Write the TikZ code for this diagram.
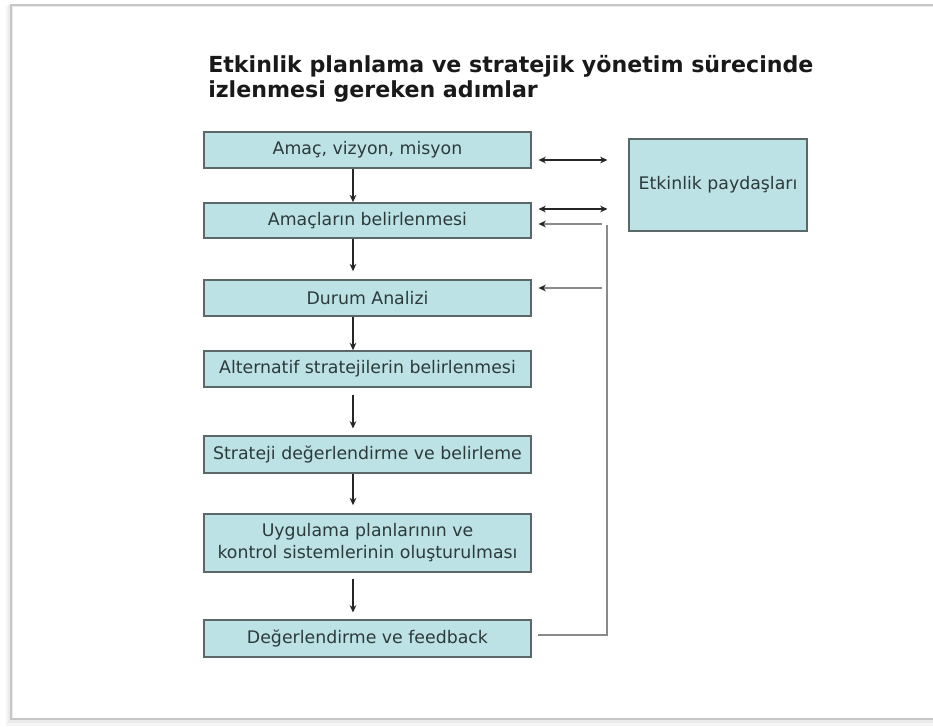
\documentclass[tikz,border=0pt]{standalone}
\usepackage{fontspec}
\setmainfont{DejaVu Sans}
\usetikzlibrary{arrows.meta}
\definecolor{boxfill}{HTML}{BDE2E6}
\definecolor{boxline}{HTML}{5A6868}
\definecolor{txt}{HTML}{2C3A3A}
\definecolor{fbgray}{HTML}{8A8A8A}
\begin{document}
\begin{tikzpicture}[x=0.75pt,y=-0.75pt,
  stepbox/.style={draw=boxline, line width=1.3pt, fill=boxfill, text=txt,
    font=\fontsize{13}{16.5}\selectfont, align=center, inner sep=0pt,
    minimum width=245.25pt},
  flow/.style={-{Stealth[length=5.5pt,width=5pt]}, line width=0.8pt, black!85},
  biflow/.style={{Stealth[length=5.5pt,width=5pt]}-{Stealth[length=5.5pt,width=5pt]}, line width=0.8pt, black!85},
  fbline/.style={line width=1pt, fbgray},
  fbarrow/.style={-{Stealth[length=5.5pt,width=5pt,color=black!85]}, line width=1pt, fbgray},
  titlefont/.style={font=\bfseries\fontsize{16.6}{20}\selectfont, text=black!90, inner sep=0pt}
]
\useasboundingbox (0,0) rectangle (933,726);
% frame with soft shadow
\fill[black!4] (6,5) rectangle (933,726);
\fill[black!8] (8,5) rectangle (933,723);
\fill[white] (13,7) rectangle (933,718);
\draw[black!22, line width=1.2pt] (933,5) -- (11,5) -- (11,719) -- (933,719);

% title
\node[titlefont, anchor=base west] (t1) at (208,72) {Etkinlik planlama ve stratejik yönetim sürecinde};
\node[titlefont, anchor=base west] (t2) at (208,97) {izlenmesi gereken adımlar};

% boxes
\node[stepbox, minimum height=27pt] (b1) at (367.5,150) {Amaç, vizyon, misyon};
\node[stepbox, minimum height=26.25pt] (b2) at (367.5,220.5) {Amaçların belirlenmesi};
\node[stepbox, minimum height=27pt] (b3) at (367.5,298) {Durum Analizi};
\node[stepbox, minimum height=27pt] (b4) at (367.5,369) {Alternatif stratejilerin belirlenmesi};
\node[stepbox, minimum height=27.75pt] (b5) at (367.5,454.5) {Strateji değerlendirme ve belirleme};
\node[stepbox, minimum height=43.5pt] (b6) at (367.5,543) {Uygulama planlarının ve\\kontrol sistemlerinin oluşturulması};
\node[stepbox, minimum height=27.75pt] (b7) at (367.5,638.5) {Değerlendirme ve feedback};
\node[stepbox, minimum width=133.5pt, minimum height=69pt] (pd) at (718,185) {Etkinlik paydaşları};

% vertical flow
\coordinate (ax) at (353,0);
\draw[flow] (b1.south -| ax) -- (b2.north -| ax);
\draw[flow, shorten >=6pt] (b2.south -| ax) -- (b3.north -| ax);
\draw[flow] (b3.south -| ax) -- (b4.north -| ax);
\draw[flow, shorten <=5pt, shorten >=5pt] (b4.south -| ax) -- (b5.north -| ax);
\draw[flow, shorten >=6pt] (b5.south -| ax) -- (b6.north -| ax);
\draw[flow, shorten <=4.5pt, shorten >=5pt] (b6.south -| ax) -- (b7.north -| ax);

% stakeholder arrows
\coordinate (r1) at (0,160);
\coordinate (r2) at (0,209);
\draw[biflow, shorten <=5pt, shorten >=15.5pt] (b1.east |- r1) -- (pd.west |- r1);
\draw[biflow, shorten <=5pt, shorten >=15.5pt] (b2.east |- r2) -- (pd.west |- r2);

% feedback loop
\coordinate (fx) at (607,0);
\coordinate (f0) at (0,635);
\coordinate (ftop) at (0,225);
\coordinate (f2) at (0,224);
\coordinate (f3) at (0,288);
\draw[fbline, shorten <=4.5pt] (b7.east |- f0) -| (fx |- ftop);
\draw[fbarrow, shorten <=4pt, shorten >=5pt] (fx |- f2) -- (b2.east |- f2);
\draw[fbarrow, shorten <=4pt, shorten >=5pt] (fx |- f3) -- (b3.east |- f3);
\end{tikzpicture}
\end{document}
